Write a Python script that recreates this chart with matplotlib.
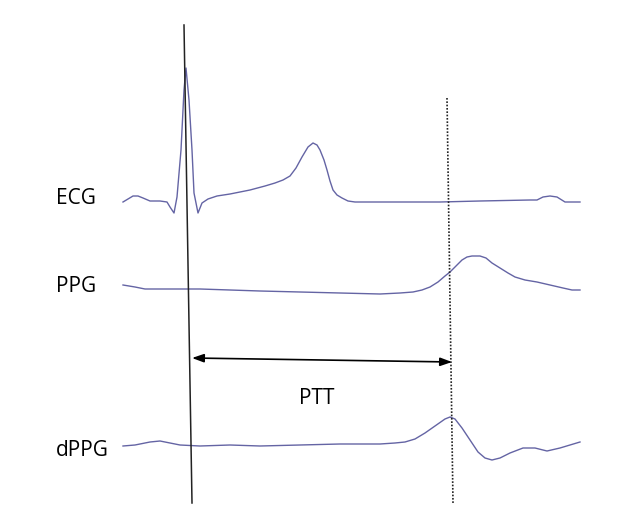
import matplotlib.pyplot as plt

# time in samples from trace start, amplitudes relative to each trace's baseline
ecg_t = [0, 5, 10, 15, 20, 27, 37, 44, 47, 51, 54, 58, 61, 63, 66, 69, 71, 75,
         79, 85, 94, 107, 127, 142, 152, 160, 167, 173, 179, 185, 190, 194,
         197, 201, 204, 207, 210, 214, 219, 225, 232, 277, 317, 357, 407, 414,
         420, 427, 434, 442, 457]
ecg_v = [0, 3, 6, 6, 4, 1, 1, 0, -5, -11, 5, 52, 112, 134, 102, 52, 9, -11,
         -1, 3, 6, 8, 12, 16, 19, 22, 26, 34, 45, 55, 59, 57,
         52, 42, 32, 21, 12, 7, 4, 1, 0, 0, 0, 1, 2, 2,
         5, 6, 5, 0, 0]

ppg_t = [0, 12, 22, 47, 77, 107, 137, 177, 217, 257, 277, 290, 299, 307, 315,
         322, 327, 333, 339, 344, 349, 357, 363, 369, 377, 385, 392, 402, 414,
         427, 440, 449, 457]
ppg_v = [5, 3, 1, 1, 1, 0, -1, -2, -3, -4, -3, -2, 0, 3, 8,
         14, 18, 24, 30, 33, 34, 34, 32, 27, 22, 17, 13, 10, 8,
         5, 2, 0, 0]

dppg_t = [0, 12, 27, 37, 47, 57, 77, 107, 137, 177, 217, 257, 272, 282, 292,
          302, 312, 322, 327, 332, 339, 347, 355, 362, 369, 377, 387, 400, 412,
          424, 437, 447, 457]
dppg_v = [0, 1, 4, 5, 3, 1, 0, 1, 0, 1, 2, 2, 3, 4, 7,
          13, 20, 27, 29, 27, 18, 6, -6, -12, -14, -12, -7, -2, -2,
          -5, -2, 1, 4]

r_peak_t = [61, 69]      # solid marker (top, bottom)
foot_t = [324, 330]      # dotted marker (top, bottom)
ptt_t = [69, 329]

# layout
ECG_Y, PPG_Y, DPPG_Y = 0, -88, -244
WAVE = "#6464a4"

fig = plt.figure(figsize=(6.4, 5.19), dpi=100)
ax = fig.add_axes([0, 0, 1, 1])
ax.set_xlim(-123, 517)
ax.set_ylim(-317, 202)
ax.set_axis_off()

ax.plot(ecg_t, [ECG_Y + v for v in ecg_v], color=WAVE, lw=1.0)
ax.plot(ppg_t, [PPG_Y + v for v in ppg_v], color=WAVE, lw=1.0)
ax.plot(dppg_t, [DPPG_Y + v for v in dppg_v], color=WAVE, lw=1.0)

ax.plot(r_peak_t, [177, -301], color="#222222", lw=1.1)
ax.plot(foot_t, [104, -301], color="#222222", lw=1.2, linestyle=(0, (1, 1)))

ax.annotate("", xy=(ptt_t[1], -160), xytext=(ptt_t[0], -156),
            arrowprops=dict(arrowstyle="<|-|>,head_length=0.7,head_width=0.25",
                            color="black", lw=1.2, shrinkA=0, shrinkB=0))

font = dict(fontsize=15, family=["Open Sans", "DejaVu Sans"], color="black")
ax.text(-67, 4, "ECG", ha="left", va="center", **font)
ax.text(-67, PPG_Y + 4, "PPG", ha="left", va="center", **font)
ax.text(-67, DPPG_Y - 5, "dPPG", ha="left", va="center", **font)
ax.text(194, -196, "PTT", ha="center", va="center", **font)

fig.savefig("out.png", dpi=100, facecolor="white")
